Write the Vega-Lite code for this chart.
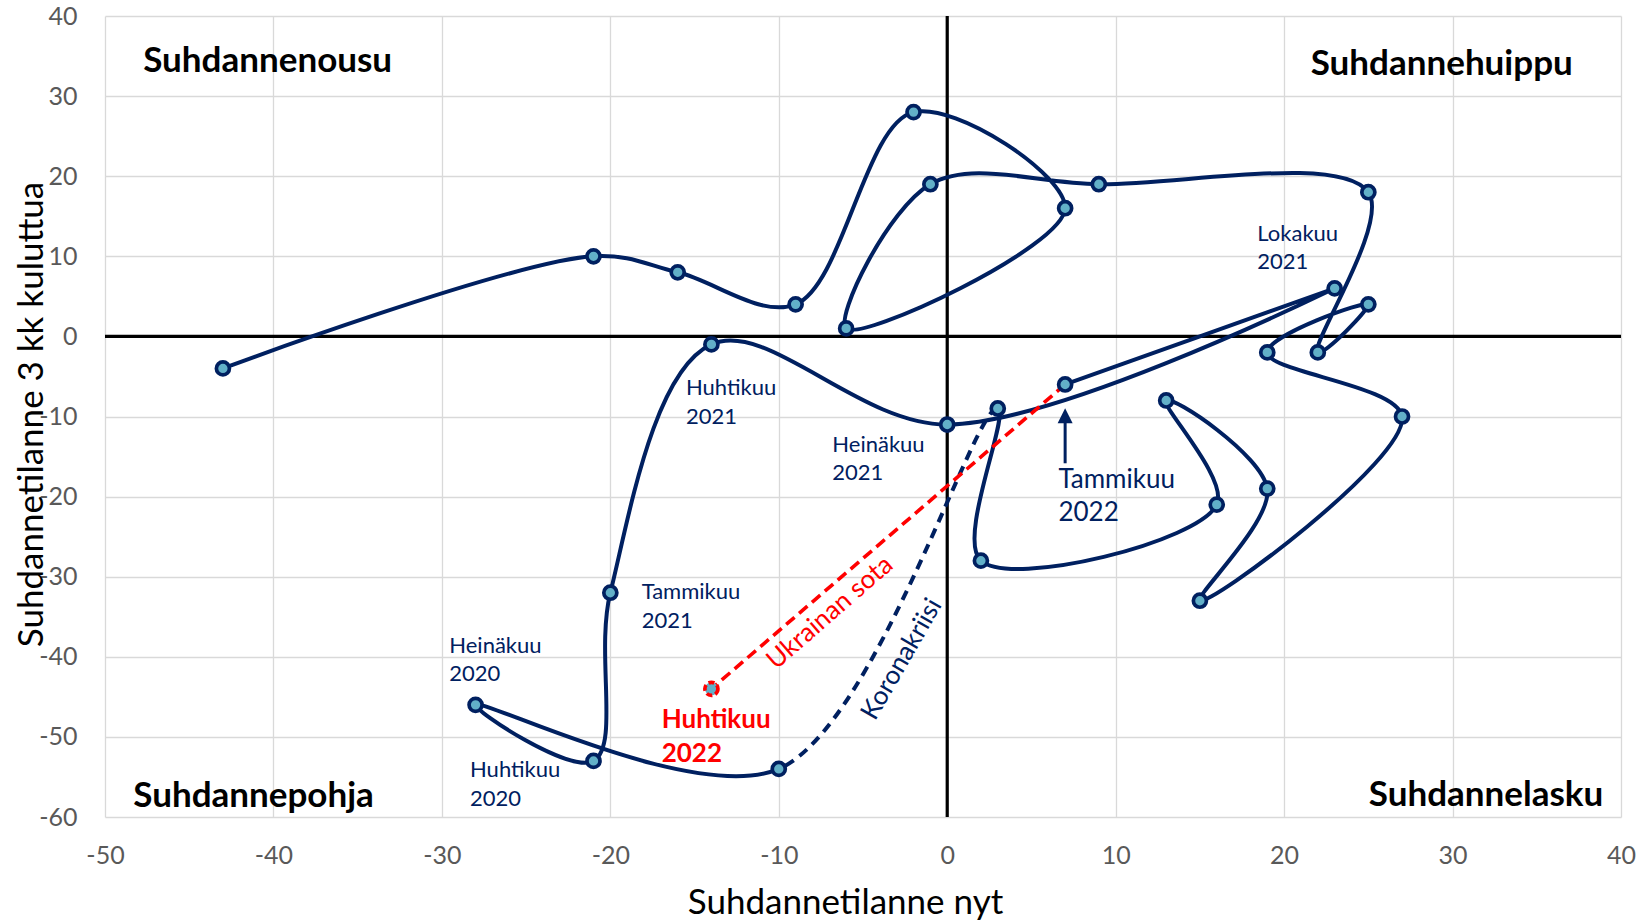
{
  "$schema": "https://vega.github.io/schema/vega-lite/v6.json",
  "width": 1516,
  "height": 801,
  "autosize": {"type": "none"},
  "padding": {"left": 105, "top": 16, "right": 19, "bottom": 103},
  "background": "white",
  "config": {
    "view": {"stroke": null},
    "font": "Lato",
    "axis": {
      "domain": false, "ticks": false, "grid": true,
      "gridColor": "#D9D9D9", "gridWidth": 1.3,
      "labelFont": "Lato", "labelFontSize": 25, "labelColor": "#595959",
      "labelFlush": false, "labelOverlap": false,
      "labelExpr": "'' + datum.value",
      "titleFont": "Lato", "titleFontSize": 35, "titleFontWeight": "normal", "titleColor": "#000000"
    },
    "axisX": {"labelPadding": 26},
    "axisY": {"labelPadding": 28}
  },
  "datasets": {
    "pts": [
      {"i": 1, "x": -43, "y": -4},
      {"i": 2, "x": -21, "y": 10},
      {"i": 3, "x": -16, "y": 8},
      {"i": 4, "x": -9, "y": 4},
      {"i": 5, "x": -2, "y": 28},
      {"i": 6, "x": 7, "y": 16},
      {"i": 7, "x": -6, "y": 1},
      {"i": 8, "x": -1, "y": 19},
      {"i": 9, "x": 9, "y": 19},
      {"i": 10, "x": 25, "y": 18},
      {"i": 11, "x": 22, "y": -2},
      {"i": 12, "x": 25, "y": 4},
      {"i": 13, "x": 19, "y": -2},
      {"i": 14, "x": 27, "y": -10},
      {"i": 15, "x": 15, "y": -33},
      {"i": 16, "x": 19, "y": -19},
      {"i": 17, "x": 13, "y": -8},
      {"i": 18, "x": 16, "y": -21},
      {"i": 19, "x": 2, "y": -28},
      {"i": 20, "x": 3, "y": -9},
      {"i": 21, "x": -10, "y": -54},
      {"i": 22, "x": -28, "y": -46},
      {"i": 23, "x": -21, "y": -53},
      {"i": 24, "x": -20, "y": -32},
      {"i": 25, "x": -14, "y": -1},
      {"i": 26, "x": 0, "y": -11},
      {"i": 27, "x": 23, "y": 6},
      {"i": 28, "x": 7, "y": -6}
    ],
    "red": [
      {"i": 1, "x": 7, "y": -6},
      {"i": 2, "x": -14, "y": -44}
    ],
    "navyLabels": [
      {"x": 18.41, "y": 11.95, "t": "Lokakuu\n2021"},
      {"x": -15.51, "y": -7.32, "t": "Huhtikuu\n2021"},
      {"x": -6.82, "y": -14.4, "t": "Heinäkuu\n2021"},
      {"x": -18.14, "y": -32.8, "t": "Tammikuu\n2021"},
      {"x": -29.56, "y": -39.5, "t": "Heinäkuu\n2020"},
      {"x": -28.33, "y": -55.04, "t": "Huhtikuu\n2020"}
    ],
    "quadLeft": [
      {"x": -47.73, "y": 33.05, "t": "Suhdannenousu"},
      {"x": 21.58, "y": 32.63, "t": "Suhdannehuippu"},
      {"x": -48.32, "y": -58.71, "t": "Suhdannepohja"}
    ]
  },
  "layer": [
    {
      "data": {"values": [{"x": 0}]},
      "mark": {"type": "rule", "color": "#000000", "strokeWidth": 3.2},
      "encoding": {
        "x": {
          "field": "x", "type": "quantitative",
          "scale": {"domain": [-50, 40], "nice": false, "zero": false},
          "axis": {"values": [-50, -40, -30, -20, -10, 0, 10, 20, 30, 40], "title": "Suhdannetilanne nyt", "titleX": 740, "titleY": 96, "titleBaseline": "alphabetic"}
        }
      }
    },
    {
      "data": {"values": [{"y": 0}]},
      "mark": {"type": "rule", "color": "#000000", "strokeWidth": 3.2},
      "encoding": {
        "y": {
          "field": "y", "type": "quantitative",
          "scale": {"domain": [-60, 40], "nice": false, "zero": false},
          "axis": {"values": [-60, -50, -40, -30, -20, -10, 0, 10, 20, 30, 40], "title": "Suhdannetilanne 3 kk kuluttua", "titleX": -63, "titleY": 398, "titleBaseline": "alphabetic"}
        }
      }
    },
    {
      "data": {"name": "pts"},
      "transform": [{"filter": "datum.i <= 21"}],
      "mark": {"type": "line", "interpolate": "catmull-rom", "color": "#002060", "strokeWidth": 4, "strokeDash": [0, 424, 100000, 0]},
      "encoding": {
        "x": {"field": "x", "type": "quantitative"},
        "y": {"field": "y", "type": "quantitative"},
        "order": {"field": "i", "sort": "descending"}
      }
    },
    {
      "data": {"name": "pts"},
      "transform": [{"filter": "datum.i >= 19"}],
      "mark": {"type": "line", "interpolate": "catmull-rom", "color": "#002060", "strokeWidth": 4,
        "strokeDash": [0, 155, 10, 7.1, 10, 7.1, 10, 7.1, 10, 7.1, 10, 7.1, 10, 7.1, 10, 7.1, 10, 7.1, 10, 7.1, 10, 7.1, 10, 7.1, 10, 7.1, 10, 7.1, 10, 7.1, 10, 7.1, 10, 7.1, 10, 7.1, 10, 7.1, 10, 7.1, 10, 7.1, 10, 7.1, 10, 7.1, 10, 7.1, 10, 7.1, 10, 7.1, 100000, 0]},
      "encoding": {
        "x": {"field": "x", "type": "quantitative"},
        "y": {"field": "y", "type": "quantitative"},
        "order": {"field": "i", "sort": "ascending"}
      }
    },
    {
      "data": {"name": "red"},
      "mark": {"type": "line", "color": "#FF0000", "strokeWidth": 3.6, "strokeDash": [11, 6]},
      "encoding": {
        "x": {"field": "x", "type": "quantitative"},
        "y": {"field": "y", "type": "quantitative"},
        "order": {"field": "i"}
      }
    },
    {
      "data": {"values": [{"x": 7, "y": -15.84, "y2": -10.6}]},
      "mark": {"type": "rule", "color": "#002060", "strokeWidth": 3},
      "encoding": {
        "x": {"field": "x", "type": "quantitative"},
        "y": {"field": "y", "type": "quantitative"},
        "y2": {"field": "y2"}
      }
    },
    {
      "data": {"values": [{"x": 7, "y": -9.9}]},
      "mark": {"type": "point", "shape": "M-1,1L0,-1L1,1Z", "size": 225, "filled": true, "color": "#002060", "opacity": 1},
      "encoding": {
        "x": {"field": "x", "type": "quantitative"},
        "y": {"field": "y", "type": "quantitative"}
      }
    },
    {
      "data": {"name": "pts"},
      "mark": {"type": "point", "shape": "circle", "size": 170, "filled": false, "fill": "#62B0C8", "stroke": "#002060", "strokeWidth": 3.7, "opacity": 1, "fillOpacity": 1},
      "encoding": {
        "x": {"field": "x", "type": "quantitative"},
        "y": {"field": "y", "type": "quantitative"}
      }
    },
    {
      "data": {"values": [{"x": -14, "y": -44}]},
      "mark": {"type": "point", "shape": "circle", "size": 170, "filled": false, "fill": "#62B0C8", "stroke": "#FF0000", "strokeWidth": 3.7, "strokeDash": [6, 3], "opacity": 1, "fillOpacity": 1},
      "encoding": {
        "x": {"field": "x", "type": "quantitative"},
        "y": {"field": "y", "type": "quantitative"}
      }
    },
    {
      "data": {"name": "navyLabels"},
      "mark": {"type": "text", "font": "Lato", "fontSize": 22, "color": "#002060", "align": "left", "baseline": "alphabetic", "lineBreak": "\n", "lineHeight": 28.5},
      "encoding": {
        "x": {"field": "x", "type": "quantitative"},
        "y": {"field": "y", "type": "quantitative"},
        "text": {"field": "t"}
      }
    },
    {
      "data": {"values": [{"x": 6.6, "y": -18.96, "t": "Tammikuu\n2022"}]},
      "mark": {"type": "text", "font": "Lato", "fontSize": 26, "color": "#002060", "align": "left", "baseline": "alphabetic", "lineBreak": "\n", "lineHeight": 32.4},
      "encoding": {
        "x": {"field": "x", "type": "quantitative"},
        "y": {"field": "y", "type": "quantitative"},
        "text": {"field": "t"}
      }
    },
    {
      "data": {"values": [{"x": -16.95, "y": -48.9, "t": "Huhtikuu\n2022"}]},
      "mark": {"type": "text", "font": "Lato", "fontSize": 26, "fontWeight": "bold", "color": "#FF0000", "align": "left", "baseline": "alphabetic", "lineBreak": "\n", "lineHeight": 34.3},
      "encoding": {
        "x": {"field": "x", "type": "quantitative"},
        "y": {"field": "y", "type": "quantitative"},
        "text": {"field": "t"}
      }
    },
    {
      "data": {"name": "quadLeft"},
      "mark": {"type": "text", "font": "Lato", "fontSize": 35, "fontWeight": "bold", "color": "#000000", "align": "left", "baseline": "alphabetic"},
      "encoding": {
        "x": {"field": "x", "type": "quantitative"},
        "y": {"field": "y", "type": "quantitative"},
        "text": {"field": "t"}
      }
    },
    {
      "data": {"values": [{"x": 38.95, "y": -58.63, "t": "Suhdannelasku"}]},
      "mark": {"type": "text", "font": "Lato", "fontSize": 35, "fontWeight": "bold", "color": "#000000", "align": "right", "baseline": "alphabetic"},
      "encoding": {
        "x": {"field": "x", "type": "quantitative"},
        "y": {"field": "y", "type": "quantitative"},
        "text": {"field": "t"}
      }
    },
    {
      "data": {"values": [{"x": -6.96, "y": -34.5, "t": "Ukrainan sota"}]},
      "mark": {"type": "text", "font": "Lato", "fontSize": 26, "color": "#FF0000", "align": "center", "baseline": "middle", "angle": -41},
      "encoding": {
        "x": {"field": "x", "type": "quantitative"},
        "y": {"field": "y", "type": "quantitative"},
        "text": {"field": "t"}
      }
    },
    {
      "data": {"values": [{"x": -2.7, "y": -40.3, "t": "Koronakriisi"}]},
      "mark": {"type": "text", "font": "Lato", "fontSize": 26, "color": "#002060", "align": "center", "baseline": "middle", "angle": -60},
      "encoding": {
        "x": {"field": "x", "type": "quantitative"},
        "y": {"field": "y", "type": "quantitative"},
        "text": {"field": "t"}
      }
    }
  ]
}
